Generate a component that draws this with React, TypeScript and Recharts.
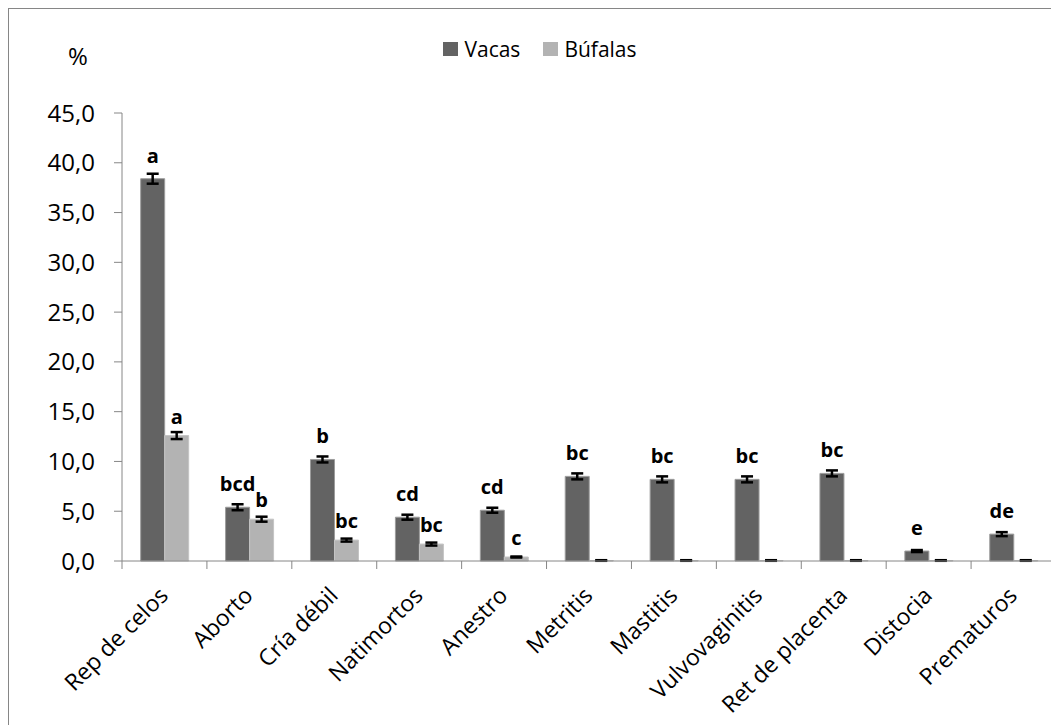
import React from "react";
import { BarChart, Bar, XAxis, YAxis, Legend, ErrorBar, LabelList } from "recharts";

// --------------------
// Datos
// --------------------
const categories = [
  "Rep de celos",
  "Aborto",
  "Cría débil",
  "Natimortos",
  "Anestro",
  "Metritis",
  "Mastitis",
  "Vulvovaginitis",
  "Ret de placenta",
  "Distocia",
  "Prematuros",
];

const vacas = [38.4, 5.4, 10.2, 4.4, 5.1, 8.5, 8.2, 8.2, 8.8, 1.0, 2.7];
const vacasErr = [0.5, 0.3, 0.3, 0.25, 0.25, 0.3, 0.3, 0.3, 0.3, 0.1, 0.2];
const vacasLetters = ["a", "bcd", "b", "cd", "cd", "bc", "bc", "bc", "bc", "e", "de"];

// casi cero en las últimas categorías (solo se ve la barra de error)
const bufalas = [12.6, 4.2, 2.1, 1.7, 0.4, 0.05, 0.05, 0.05, 0.05, 0.05, 0.05];
const bufalasErr = [0.35, 0.25, 0.15, 0.15, 0.05, 0.03, 0.03, 0.03, 0.03, 0.03, 0.03];
const bufalasLetters = ["a", "b", "bc", "bc", "c", "", "", "", "", "", ""];

const yTicks = [0, 5, 10, 15, 20, 25, 30, 35, 40, 45];
const seriesNames = ["Vacas", "Búfalas"];
const seriesColors = ["#636363", "#b3b3b3"];

const AXIS_COLOR = "#868686";
const FONT = "'Open Sans', sans-serif";

const data = categories.map((name, i) => ({
  name,
  vacas: vacas[i],
  vacasErr: vacasErr[i],
  vacasLetter: vacasLetters[i],
  bufalas: bufalas[i],
  bufalasErr: bufalasErr[i],
  bufalasLetter: bufalasLetters[i],
}));

// --------------------
// Ticks del eje X (rayas entre categorías + texto girado)
// --------------------
function CategoryTick(props: any) {
  const { x, y, payload, index } = props;
  const half = payload && payload.offset ? payload.offset : 42.5;
  const isLast = index === categories.length - 1;
  const tx = x + 5;
  const ty = y + 36;
  return (
    <g>
      <line x1={x - half} y1={y} x2={x - half} y2={y + 8} stroke={AXIS_COLOR} />
      {isLast && <line x1={x + half} y1={y} x2={x + half} y2={y + 8} stroke={AXIS_COLOR} />}
      <text
        x={tx}
        y={ty}
        textAnchor="end"
        transform={`rotate(-45 ${tx} ${ty})`}
        fontSize={23}
        fill="#000"
        fontFamily={FONT}
      >
        {payload.value}
      </text>
    </g>
  );
}

function PercentLabel(props: any) {
  const vb = props.viewBox || { x: 0, y: 0 };
  return (
    <text x={vb.x + 69} y={vb.y - 48} textAnchor="middle" fontSize={24} fill="#000" fontFamily={FONT}>
      %
    </text>
  );
}

// leyenda en el orden de las series (Recharts ordena por nombre)
function LegendContent() {
  return (
    <div
      style={{
        display: "flex",
        justifyContent: "center",
        alignItems: "center",
        fontFamily: FONT,
        fontSize: 21,
        color: "#000",
      }}
    >
      {seriesNames.map((name, i) => (
        <div key={name} style={{ display: "flex", alignItems: "center", marginRight: i === 0 ? 23 : 0 }}>
          <span
            style={{
              display: "inline-block",
              width: 15,
              height: 14,
              marginRight: 6,
              background: seriesColors[i],
            }}
          />
          <span>{name}</span>
        </div>
      ))}
    </div>
  );
}

// --------------------
// Gráfico
// --------------------
export default function App() {
  return (
    <div
      style={{
        position: "fixed",
        left: 8,
        top: 8,
        width: 1043,
        height: 717,
        overflow: "hidden",
        background: "#fff",
      }}
    >
      <div style={{ border: `1px solid ${AXIS_COLOR}`, width: 1062, height: 740, fontFamily: FONT }}>
        <BarChart
          width={1062}
          height={740}
          data={data}
          margin={{ top: 104, right: 15, left: 0, bottom: 0 }}
          barCategoryGap="22%"
          barGap={0}
        >
          <XAxis
            dataKey="name"
            height={188}
            interval={0}
            tickSize={0}
            tickMargin={0}
            tickLine={false}
            axisLine={{ stroke: AXIS_COLOR }}
            tick={<CategoryTick />}
          />
          <YAxis
            width={113}
            domain={[0, 45]}
            ticks={yTicks}
            interval={0}
            tickSize={8}
            tickMargin={19}
            axisLine={{ stroke: AXIS_COLOR }}
            tickLine={{ stroke: AXIS_COLOR }}
            tickFormatter={(v: number) => v.toFixed(1).replace(".", ",")}
            tick={{ fontSize: 24, fill: "#000", fontFamily: FONT }}
            label={<PercentLabel />}
          />
          <Legend
            verticalAlign="middle"
            align="center"
            layout="horizontal"
            wrapperStyle={{ top: 26, left: 0, width: 1062 }}
            content={<LegendContent />}
          />
          <Bar
            dataKey="vacas"
            name={seriesNames[0]}
            fill={seriesColors[0]}
            stroke="#9c9c9c"
            strokeWidth={1}
            isAnimationActive={false}
          >
            <ErrorBar dataKey="vacasErr" width={6} strokeWidth={2.5} stroke="#000" direction="y" isAnimationActive={false} />
            <LabelList
              dataKey="vacasLetter"
              position="top"
              offset={16}
              fontSize={20}
              fontWeight="bold"
              fill="#000"
              fontFamily={FONT}
            />
          </Bar>
          <Bar
            dataKey="bufalas"
            name={seriesNames[1]}
            fill={seriesColors[1]}
            stroke="#c4c4c4"
            strokeWidth={1}
            isAnimationActive={false}
          >
            <ErrorBar dataKey="bufalasErr" width={6} strokeWidth={2.5} stroke="#000" direction="y" isAnimationActive={false} />
            <LabelList
              dataKey="bufalasLetter"
              position="top"
              offset={12}
              fontSize={20}
              fontWeight="bold"
              fill="#000"
              fontFamily={FONT}
            />
          </Bar>
        </BarChart>
      </div>
    </div>
  );
}
